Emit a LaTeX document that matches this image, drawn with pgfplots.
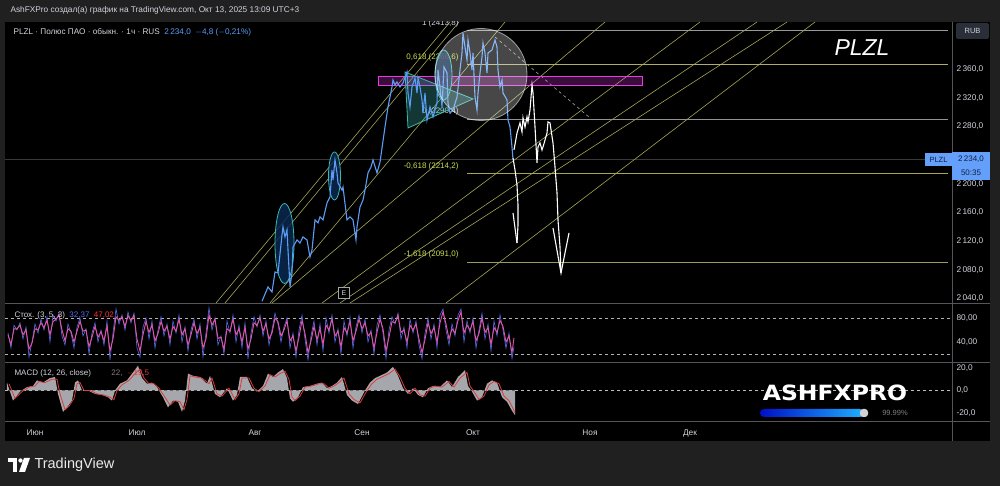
\documentclass[border=0pt]{standalone}
\usepackage{fontspec}
\setmainfont{Liberation Sans}
\newfontfamily\logofont{DejaVu Sans}
\usepackage{pgfplots}
\pgfplotsset{compat=1.18}
\definecolor{outer}{RGB}{32,32,32}
\definecolor{lbl}{RGB}{209,212,220}
\definecolor{pblue}{RGB}{91,156,246}
\definecolor{diag}{RGB}{165,165,85}
\definecolor{fibtxt}{RGB}{205,220,80}
\definecolor{sep}{RGB}{85,85,90}
\definecolor{stk}{RGB}{90,110,240}
\definecolor{std}{RGB}{230,85,165}
\definecolor{macdfill}{RGB}{165,167,172}
\definecolor{macdred}{RGB}{220,60,60}
\definecolor{tealc}{RGB}{60,185,175}
\definecolor{magc}{RGB}{230,60,230}
\definecolor{pricebox}{RGB}{100,160,250}
\pgfplotsset{tvaxis/.style={scale only axis, xmin=5, xmax=952, axis line style={draw=none},
  major tick length=0pt, tick style={draw=none}, xtick=\empty, yticklabel pos=right,
  tick label style={font=\fontsize{8.3}{9}\selectfont, text=lbl},
  y tick label style={anchor=west, xshift=1pt}, clip=true}}
\begin{document}
\begin{tikzpicture}[x=1pt,y=1pt]
\fill[outer] (0,0) rectangle (1000,486);
\fill[black] (5,45) rectangle (990,464);
% ---------------- main price pane
\begin{axis}[tvaxis, at={(5pt,183pt)}, anchor=south west, width=947pt, height=281pt,
  ymin=2033.6, ymax=2425.5, ytick={2040,2080,2120,2160,2200,2280,2320,2360},
  yticklabels={{2\,040,0},{2\,080,0},{2\,120,0},{2\,160,0},{2\,200,0},{2\,280,0},{2\,320,0},{2\,360,0}}]
% current price line
\draw[gray!45!black, line width=0.5pt] (axis cs:5,2234) -- (axis cs:952,2234);
% diagonal channel lines
\draw[diag, line width=0.6pt] (axis cs:216,2033.6) -- (axis cs:450,2425.5);
\draw[diag, line width=0.6pt] (axis cs:225,2033.6) -- (axis cs:459,2425.5);
\draw[diag, line width=0.6pt] (axis cs:270,2033.6) -- (axis cs:505,2425.5);
\draw[diag, line width=0.6pt] (axis cs:272,2033.6) -- (axis cs:605,2425.5);
\draw[diag, line width=0.6pt] (axis cs:322,2033.6) -- (axis cs:700,2425.5);
\draw[diag, line width=0.6pt] (axis cs:340,2033.6) -- (axis cs:757,2425.5);
\draw[diag, line width=0.6pt] (axis cs:350,2033.6) -- (axis cs:787,2425.5);
\draw[diag, line width=0.6pt] (axis cs:446,2033.6) -- (axis cs:815,2425.5);
% fib levels
\draw[gray!80, line width=0.6pt] (axis cs:467,2413.8) -- (axis cs:948,2413.8);
\draw[diag!90!white, line width=0.6pt] (axis cs:467,2366.6) -- (axis cs:948,2366.6);
\draw[gray!85, line width=0.6pt] (axis cs:467,2290.4) -- (axis cs:948,2290.4);
\draw[diag, line width=0.6pt] (axis cs:467,2214.2) -- (axis cs:948,2214.2);
\draw[diag!70!gray, line width=0.6pt] (axis cs:467,2091.0) -- (axis cs:948,2091.0);
\node[anchor=base east, text=lbl, font=\fontsize{8}{9}\selectfont, yshift=5pt] at (axis cs:462,2413.8) {1 (2413,8)};
\node[anchor=base east, text=fibtxt, font=\fontsize{8}{9}\selectfont, yshift=5pt] at (axis cs:462,2366.6) {0,618 (2366,6)};
\node[anchor=base east, text=lbl, font=\fontsize{8}{9}\selectfont, yshift=5pt] at (axis cs:462,2290.4) {0 (2290,4)};
\node[anchor=base east, text=fibtxt, font=\fontsize{8}{9}\selectfont, yshift=5pt] at (axis cs:462,2214.2) {-0,618 (2214,2)};
\node[anchor=base east, text=fibtxt, font=\fontsize{8}{9}\selectfont, yshift=5pt] at (axis cs:462,2091.0) {-1,618 (2091,0)};
% dashed trend line
\draw[gray!70, dashed, line width=0.6pt] (axis cs:495,2404.6) -- (axis cs:590,2291.7);
% magenta zone
\draw[magc, line width=1pt, fill=magc, fill opacity=0.25] (axis cs:378,2348.8) rectangle (axis cs:642,2336.3);
% ellipses
\draw[tealc, line width=0.8pt, fill={rgb,255:red,10;green,40;blue,80}, fill opacity=0.85] (axis cs:284.5,2116.6) ellipse [x radius=9.5pt, y radius=40pt];
\draw[tealc, line width=0.8pt, fill={rgb,255:red,10;green,40;blue,80}, fill opacity=0.85] (axis cs:334.5,2210.8) ellipse [x radius=6pt, y radius=24pt];
\draw[tealc, line width=0.8pt, fill={rgb,255:red,10;green,40;blue,80}, fill opacity=0.85] (axis cs:443.5,2351.6) ellipse [x radius=8.5pt, y radius=25pt];
% triangle
\draw[tealc, line width=0.8pt, fill=tealc, fill opacity=0.3] (axis cs:405,2355.8) -- (axis cs:473,2318.2) -- (axis cs:408,2277.7) -- cycle;
% price
\addplot[pblue, line width=1.1pt] coordinates {
(262,2036) (268,2056.0) (272,2049.0) (275,2076.9) (278,2075.5) (282,2128.5) (283,2139.6) (285,2125.7)
(287,2135.5) (288,2107.6) (290,2056.0) (292,2075.5) (293,2111.7) (297,2121.5) (300,2117.3) (303,2125.7)
(307,2121.5) (310,2097.8) (312,2107.6) (315,2149.4) (318,2145.2) (320,2153.6) (323,2149.4) (327,2173.1)
(330,2181.5) (332,2219.1) (333,2205.2) (335,2233.1) (337,2215.0) (338,2201.0) (342,2191.2) (343,2195.4)
(347,2149.4) (350,2153.6) (353,2149.4) (356,2121.5) (357,2139.6) (360,2167.5) (363,2177.3) (365,2191.2)
(368,2215.0) (371,2223.3) (373,2233.1) (377,2215.0) (380,2230.0) (385,2279.1) (388,2307.0) (392,2334.9)
(393,2344.7) (395,2337.7) (397,2341.9) (400,2334.9) (403,2340.5) (407,2355.8) (408,2326.5) (410,2307.0)
(412,2334.9) (415,2347.4) (417,2326.5) (418,2347.4) (420,2334.9) (422,2316.8) (423,2298.6) (425,2326.5)
(427,2288.9) (430,2307.0) (433,2293.1) (437,2312.6) (438,2358.6) (440,2334.9) (442,2307.0) (444,2362.8)
(447,2354.4) (448,2312.6) (450,2298.6) (453,2302.8) (457,2320.9) (460,2358.6) (462,2382.3) (463,2410.2)
(465,2390.7) (467,2372.6) (468,2400.4) (470,2382.3) (472,2358.6) (473,2382.3) (475,2320.9) (477,2302.8)
(478,2326.5) (480,2354.4) (482,2376.7) (483,2396.3) (485,2382.3) (487,2354.4) (488,2382.3) (492,2386.5)
(495,2400.4) (497,2390.7) (498,2358.6) (500,2334.9) (502,2344.7) (503,2326.5) (507,2316.8) (508,2288.9)
(510,2279.1) (512,2251.2) (513,2234.0)};
% big translucent circle
\draw[white, line width=0.8pt, draw opacity=0.55, fill=white, fill opacity=0.28] (axis cs:481,2352.3) circle [radius=46pt];
% hand drawn arrows
\addplot[white, line width=1.1pt] coordinates {(513,2235.9) (515,2219.1) (517,2198.2) (518,2170.3) (518,2142.4) (517,2117.3)};
\addplot[white, line width=1.1pt] coordinates {(513,2159.2) (517,2117.3)};
\addplot[white, line width=1.1pt] coordinates {(514,2247.0) (517,2270.7) (520,2284.7) (522,2272.1) (523,2291.7)
(525,2279.1) (527,2293.1) (528,2286.1) (530,2302.8) (532,2337.7) (533,2326.5) (535,2279.1) (537,2228.9)
(538,2251.2) (540,2256.8) (542,2247.0) (543,2251.2) (547,2270.7) (548,2286.1) (550,2284.7) (553,2256.8)
(555,2223.3) (557,2187.1) (558,2149.4) (560,2111.7) (561,2075.5)};
\addplot[white, line width=1.1pt] coordinates {(553,2138.2) (561,2075.5) (569,2131.3)};
\node[draw=gray!70, fill=black, text=lbl, font=\fontsize{7}{8}\selectfont, inner sep=1.5pt, minimum size=11pt] at (axis cs:344,2047.6) {E};
\end{axis}
% ---------------- stochastic pane
\begin{axis}[tvaxis, at={(5pt,125pt)}, anchor=south west, width=947pt, height=56pt,
  ymin=8.3, ymax=101.7, ytick={40,80}, yticklabels={{40,00},{80,00}}]
\draw[gray!60, dashed, line width=0.5pt] (axis cs:5,80) -- (axis cs:952,80);
\draw[gray!60, dashed, line width=0.5pt] (axis cs:5,20) -- (axis cs:952,20);
\addplot[stk, line width=0.6pt] coordinates {
(8,55) (11,30) (14,68) (17,60) (20,72) (23,45) (26,65) (29,15) (32,40) (35,70) (38,55) (41,78) (44,60) (47,82)
(50,40) (53,85) (56,75) (59,88) (62,50) (65,35) (68,70) (71,55) (74,30) (77,65) (80,80) (83,50) (86,62) (89,20)
(92,55) (95,72) (98,40) (101,60) (104,35) (107,75) (110,10) (113,55) (116,95) (119,70) (122,85) (125,60) (128,90)
(131,72) (134,88) (137,30) (140,15) (143,65) (146,80) (149,45) (152,75) (155,30) (158,60) (161,82) (164,50)
(167,70) (170,35) (173,75) (176,55) (179,85) (182,40) (185,65) (188,25) (191,60) (194,78) (197,45) (200,70)
(203,15) (206,55) (209,97) (212,60) (215,80) (218,35) (221,50) (224,20) (227,75) (230,55) (233,85) (236,40)
(239,68) (242,30) (245,72) (248,12) (251,55) (254,82) (257,65) (260,85) (263,50) (266,75) (269,35) (272,60)
(275,88) (278,70) (281,40) (284,65) (287,80) (290,30) (293,55) (296,15) (299,60) (302,85) (305,45) (308,10)
(311,50) (314,75) (317,35) (320,70) (323,25) (326,80) (329,55) (332,85) (335,40) (338,62) (341,20) (344,75)
(347,50) (350,82) (353,30) (356,65) (359,85) (362,55) (365,78) (368,40) (371,60) (374,20) (377,68) (380,85)
(383,55) (386,12) (389,60) (392,82) (395,70) (398,88) (401,45) (404,65) (407,30) (410,78) (413,55) (416,75)
(419,35) (422,12) (425,55) (428,80) (431,45) (434,70) (437,30) (440,85) (443,95) (446,60) (449,35) (452,70)
(455,50) (458,85) (461,95) (464,40) (467,75) (470,55) (473,80) (476,30) (479,60) (482,88) (485,45) (488,70)
(491,25) (494,75) (497,50) (500,85) (503,60) (506,30) (509,55) (512,12) (514,32)};
\addplot[std, line width=0.9pt] coordinates {
(8,52) (11,36) (14,62) (17,62) (20,68) (23,52) (26,60) (29,28) (32,38) (35,62) (38,60) (41,72) (44,64) (47,76)
(50,52) (53,74) (56,78) (59,85) (62,60) (65,42) (68,62) (71,58) (74,40) (77,58) (80,74) (83,58) (86,60) (89,32)
(92,48) (95,66) (98,48) (101,57) (104,42) (107,66) (110,25) (113,45) (116,82) (119,76) (122,82) (125,66) (128,84)
(131,76) (134,84) (137,45) (140,25) (143,52) (146,74) (149,56) (152,68) (155,42) (158,54) (161,74) (164,58)
(167,66) (170,45) (173,66) (176,58) (179,78) (182,52) (185,62) (188,35) (191,52) (194,72) (197,54) (200,64)
(203,30) (206,45) (209,85) (212,68) (215,78) (218,46) (221,48) (224,28) (227,62) (230,58) (233,78) (236,52)
(239,62) (242,40) (245,64) (248,28) (251,45) (254,72) (257,68) (260,80) (263,58) (266,70) (269,45) (272,55)
(275,80) (278,74) (281,50) (284,60) (287,75) (290,42) (293,50) (296,25) (299,48) (302,76) (305,54) (308,22)
(311,42) (314,66) (317,44) (320,62) (323,36) (326,68) (329,60) (332,78) (335,50) (338,58) (341,32) (344,64)
(347,55) (350,74) (353,42) (356,58) (359,78) (362,62) (365,72) (368,50) (371,56) (374,30) (377,56) (380,78)
(383,62) (386,25) (389,48) (392,74) (395,72) (398,84) (401,56) (404,60) (407,40) (410,68) (413,60) (416,70)
(419,45) (422,22) (425,44) (428,72) (431,54) (434,64) (437,40) (440,72) (443,90) (446,70) (449,45) (452,62)
(455,55) (458,76) (461,90) (464,55) (467,68) (470,60) (473,74) (476,42) (479,54) (482,80) (485,56) (488,64)
(491,36) (494,64) (497,56) (500,76) (503,66) (506,40) (509,50) (512,22) (514,47)};
\end{axis}
% ---------------- MACD pane
\begin{axis}[tvaxis, at={(5pt,65pt)}, anchor=south west, width=947pt, height=58pt,
  ymin=-27.1, ymax=24.4, ytick={-20,0,20}, yticklabels={{-20,0},{0,0},{20,0}},
  xtick={35,137,255,362,473,590,690}, xticklabels={Июн,Июл,Авг,Сен,Окт,Ноя,Дек},
  x tick label style={yshift=-5pt}]
\draw[gray!50, dashed, line width=0.4pt] (axis cs:5,0) -- (axis cs:952,0);
\addplot[draw=none, fill=macdfill] coordinates {
(7,7) (13,-9) (20,-1) (27,3) (33,4) (37,9) (43,7) (50,11) (55,12) (58,-3) (63,-19) (67,-15) (72,-9) (75,7)
(78,9) (82,0) (88,0) (95,-3) (102,-4) (108,-6) (112,-9) (115,0) (120,6) (127,9) (133,16) (138,22) (142,11)
(147,6) (152,7) (157,3) (163,-6) (168,-15) (173,-9) (178,-10) (182,-19) (185,-9) (188,15) (193,13) (200,12)
(207,6) (210,13) (215,-3) (220,-6) (227,2) (233,-9) (237,-4) (240,12) (247,12) (252,2) (257,-1) (263,4)
(268,15) (273,12) (278,16) (283,19) (287,11) (290,-7) (293,-10) (298,-6) (303,3) (310,4) (317,6) (322,7)
(327,2) (332,4) (337,7) (342,12) (347,-4) (352,-9) (358,-12) (365,0) (370,7) (375,11) (380,13) (387,16)
(393,21) (398,13) (403,2) (408,-3) (413,2) (418,-4) (423,-6) (428,2) (433,4) (440,3) (447,9) (452,3)
(458,12) (465,18) (468,4) (472,-1) (477,-9) (482,-6) (487,6) (492,9) (497,7) (502,-6) (507,-10) (512,-18)
(515,-22)} \closedcycle;
\addplot[macdred, line width=0.8pt] coordinates {
(9,6) (15,-7) (22,-1) (29,3) (35,4) (39,8) (45,7) (52,10) (57,10) (60,-3) (65,-17) (69,-14) (74,-7) (77,6)
(80,7) (84,0) (90,0) (97,-3) (104,-4) (110,-6) (114,-8) (117,0) (122,5) (129,9) (135,15) (140,19) (144,11)
(149,6) (154,6) (159,2) (165,-6) (170,-13) (175,-9) (180,-10) (184,-17) (187,-8) (190,13) (195,12) (202,11)
(209,6) (212,11) (217,-3) (222,-5) (229,2) (235,-8) (239,-3) (242,11) (249,11) (254,2) (259,-1) (265,4)
(270,14) (275,12) (280,15) (285,17) (289,10) (292,-6) (295,-9) (300,-5) (305,3) (312,4) (319,6) (324,6)
(329,2) (334,4) (339,7) (344,11) (349,-3) (354,-8) (360,-11) (367,0) (372,6) (377,10) (382,12) (389,15)
(395,19) (400,12) (405,2) (410,-3) (415,2) (420,-4) (425,-5) (430,2) (435,4) (442,3) (449,8) (454,3)
(460,11) (467,16) (470,4) (474,-1) (479,-8) (484,-5) (489,5) (494,8) (499,6) (504,-5) (509,-9) (513,-16)
(515,-20)};
\end{axis}
% ---------------- separators and frame decorations
\draw[sep, line width=0.7pt] (5,183) -- (990,183);
\draw[sep, line width=0.7pt] (5,124) -- (990,124);
\draw[sep, line width=0.7pt] (5,65) -- (990,65);
\draw[sep, line width=0.7pt] (952,45) -- (952,464);
% header texts
\node[anchor=west, text=lbl, font=\fontsize{8.3}{10}\selectfont] at (7,476) {AshFXPro создал(а) график на TradingView.com, Окт 13, 2025 13:09 UTC+3};
\node[anchor=west, text=lbl, font=\fontsize{8.2}{9}\selectfont] at (10,454) {PLZL · Полюс ПАО · обыкн. · 1ч · RUS\ \ \textcolor{pblue}{2\,234,0\ \ $-$4,8 ($-$0,21\%)}};
\node[anchor=west, text=lbl, font=\fontsize{8}{9}\selectfont] at (11,171) {Стох. (3, 5, 3)\ \ \textcolor{stk}{32,37}\ \ \textcolor{red!80!white}{47,02}};
\node[anchor=west, text=lbl, font=\fontsize{8}{9}\selectfont] at (11,113) {MACD (12, 26, close)\qquad\ \ \textcolor{gray}{22,}\ \ \textcolor{macdred}{$-$19,5}};
% RUB box
\fill[rounded corners=2pt, fill={rgb,255:red,42;green,46;blue,57}] (956,447) rectangle (989,463);
\node[text=lbl, font=\fontsize{7.5}{8}\selectfont] at (972.5,455) {RUB};
% big symbol
\node[text=white, font=\fontsize{23}{26}\itshape] at (862,438) {PLZL};
% current price labels
\fill[pricebox] (925,320) rectangle (952,333);
\node[text={rgb,255:red,15;green,30;blue,70}, font=\fontsize{7.5}{8}\selectfont] at (938.5,326.5) {PLZL};
\fill[pricebox] (952,306) rectangle (990,334);
\node[text={rgb,255:red,15;green,30;blue,70}, font=\fontsize{8}{8}\selectfont] at (971,327) {2\,234,0};
\node[text={rgb,255:red,15;green,30;blue,70}, font=\fontsize{8}{8}\selectfont] at (971,313) {50:35};
% watermark logo
\node[text=white, font=\logofont\bfseries\fontsize{21}{24}\selectfont] at (835,93) {\scalebox{1.12}[1]{ASHFXPRO}};
\shade[rounded corners=4pt, left color={rgb,255:red,0;green,15;blue,200}, right color={rgb,255:red,30;green,175;blue,255}] (760,69) rectangle (864,77);
\fill[rounded corners=3pt, gray!35] (860,69) rectangle (868,77);
\node[text=gray, font=\fontsize{7.5}{8}\selectfont] at (895,73) {99.99\%};
% TradingView logo
\fill[white] (8,28) rectangle (17,23.5);
\fill[white] (12.5,23.5) rectangle (17,14);
\fill[white] (20.5,25.5) circle (2.2);
\fill[white] (24,28) -- (30,28) -- (25,14) -- (19,14) -- cycle;
\node[anchor=west, text=white!92!black, font=\fontsize{14.5}{16}\selectfont] at (31,21) {TradingView};
\end{tikzpicture}
\end{document}
